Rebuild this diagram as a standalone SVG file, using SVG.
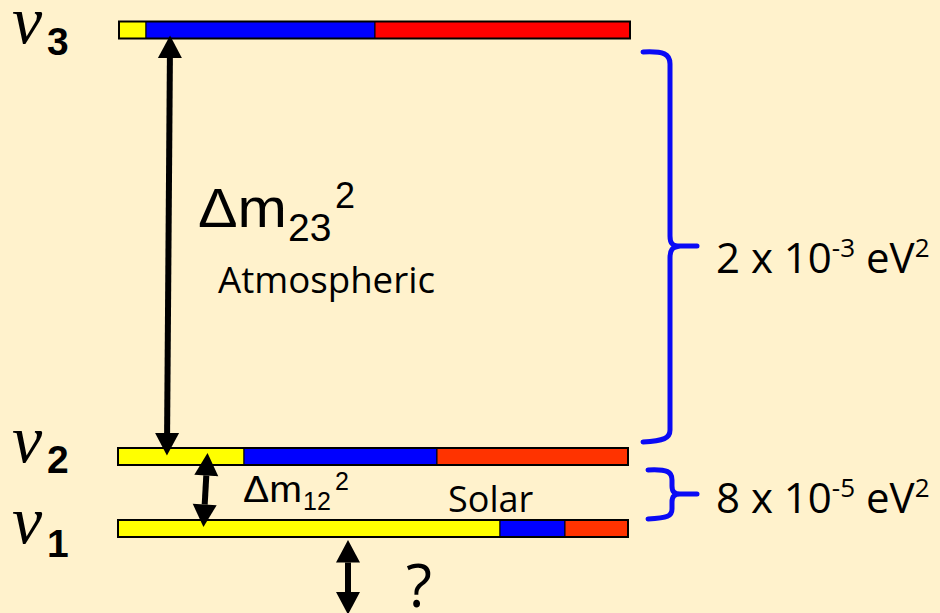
<svg xmlns="http://www.w3.org/2000/svg" width="940" height="613" viewBox="0 0 940 613">
<style>
.bg{fill:#FFF2CC}
.seg{stroke:#000;stroke-width:1}
.frame{fill:none;stroke:#000;stroke-width:2}
.y{fill:#FFFF00}.b{fill:#0000FF}.r{fill:#FF0000}.o{fill:#FF3300}
.nu{font-family:"Liberation Serif","DejaVu Serif",serif;font-style:italic;font-size:68px;fill:#000}
.idx{font-family:"Liberation Sans",Arial,sans-serif;font-weight:bold;font-size:39px;fill:#000}
.sym{font-family:"Liberation Sans",Arial,sans-serif;fill:#000}
.lbl{font-family:"Open Sans","Noto Sans",sans-serif;fill:#000}
.arr{stroke:#000;stroke-width:6;fill:none}
.brace{stroke:#0A0AF5;stroke-width:5;fill:none;stroke-linecap:round;stroke-linejoin:round}
</style>
<defs>
<marker id="head" markerUnits="userSpaceOnUse" markerWidth="24" markerHeight="26" viewBox="0 -13 23 26" refX="0" refY="0" orient="auto-start-reverse">
<path d="M0,-12 L22.5,0 L0,12 z" fill="#000"/>
</marker>
</defs>
<rect class="bg" x="0" y="0" width="940" height="613"/>

<g id="nu3">
<rect class="seg y" x="119" y="21.5" width="27" height="17"/>
<rect class="seg b" x="146" y="21.5" width="229" height="17"/>
<rect class="seg r" x="375" y="21.5" width="255" height="17"/>
<rect class="frame" x="119" y="21.5" width="511" height="17"/>
<text class="nu" x="12" y="43">ν</text>
<text class="idx" x="47" y="55">3</text>
</g>

<g id="nu2">
<rect class="seg y" x="118" y="448" width="126" height="17"/>
<rect class="seg b" x="244" y="448" width="193" height="17"/>
<rect class="seg o" x="437" y="448" width="191" height="17"/>
<rect class="frame" x="118" y="448" width="510" height="17"/>
<text class="nu" x="12" y="462">ν</text>
<text class="idx" x="47" y="473">2</text>
</g>

<g id="nu1">
<rect class="seg y" x="118" y="520" width="382" height="17"/>
<rect class="seg b" x="500" y="520" width="65" height="17"/>
<rect class="seg o" x="565" y="520" width="63" height="17"/>
<rect class="frame" x="118" y="520" width="510" height="17"/>
<text class="nu" x="12" y="543">ν</text>
<text class="idx" x="47" y="557">1</text>
</g>

<g id="connectors">
<line class="arr" x1="169.9" y1="58" x2="167.1" y2="433" marker-start="url(#head)" marker-end="url(#head)"/>
<line class="arr" x1="206.3" y1="475.5" x2="204.7" y2="504.5" marker-start="url(#head)" marker-end="url(#head)"/>
<line class="arr" x1="348" y1="562.5" x2="348" y2="592" marker-start="url(#head)" marker-end="url(#head)"/>
</g>

<g id="atm-label">
<text class="sym" x="198" y="227" font-size="56" textLength="89" lengthAdjust="spacingAndGlyphs">Δm</text>
<text class="sym" x="288" y="241" font-size="39">23</text>
<text class="sym" x="335" y="208" font-size="36">2</text>
<text class="lbl" x="218" y="293" font-size="36" textLength="217" lengthAdjust="spacingAndGlyphs">Atmospheric</text>
</g>

<g id="solar-label">
<text class="sym" x="243" y="502" font-size="37" textLength="59" lengthAdjust="spacingAndGlyphs">Δm</text>
<text class="sym" x="303" y="510" font-size="25">12</text>
<text class="sym" x="335" y="490" font-size="25">2</text>
<text class="lbl" x="448" y="512" font-size="36">Solar</text>
</g>

<g id="question">
<text class="lbl" x="406" y="607" font-size="60">?</text>
</g>

<g id="brace-atm">
<path class="brace" d="M643,52 C664,51 670,54 670,64 L670,236 C670,243 672,246 680,246 L697,246 M680,246 C672,247 670,250 670,258 L670,430 C670,438 664,441 643,442"/>
<text class="lbl" x="716" y="273" font-size="42">2 x 10<tspan font-size="26" dy="-16">-3</tspan><tspan dy="16"> eV</tspan><tspan font-size="26" dy="-16">2</tspan></text>
</g>

<g id="brace-sol">
<path class="brace" d="M648,470 C668,469 672,472 672,480 L672,486 C672,491 674,494 680,494 L697,494 M680,494 C674,494 672,497 672,502 L672,509 C672,516 668,518 648,519"/>
<text class="lbl" x="716" y="513" font-size="42">8 x 10<tspan font-size="26" dy="-16">-5</tspan><tspan dy="16"> eV</tspan><tspan font-size="26" dy="-16">2</tspan></text>
</g>
</svg>
